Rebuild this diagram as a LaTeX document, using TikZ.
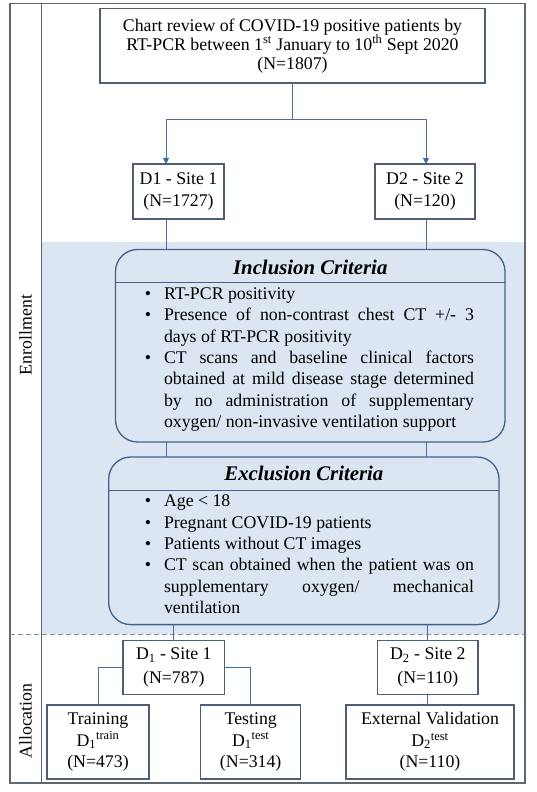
\documentclass[tikz,border=0pt]{standalone}
\usepackage{fontspec}
\setmainfont{Liberation Serif}
\usetikzlibrary{arrows.meta,calc}
\definecolor{framecol}{HTML}{5F6770}
\definecolor{boxcol}{HTML}{4D5E75}
\definecolor{rboxcol}{HTML}{45618A}
\definecolor{linecol}{HTML}{4A6FA5}
\definecolor{arrcol}{HTML}{3B68B0}
\definecolor{shadecol}{HTML}{DCE6F2}
\definecolor{dashcol}{HTML}{8A8F96}
\newcommand{\critlist}[1]{%
\begin{minipage}[t]{330pt}\fontsize{17.8}{21.3}\selectfont\tolerance=10000 \hbadness=10000
\begin{list}{\textbullet}{\setlength\leftmargin{20pt}\setlength\labelwidth{7pt}\setlength\labelsep{13pt}\setlength\topsep{0pt}\setlength\itemsep{0pt}\setlength\parsep{0pt}\setlength\partopsep{0pt}}
#1
\end{list}
\end{minipage}}
\begin{document}
\begin{tikzpicture}[x=1pt,y=-1pt,
  base/.style={inner sep=0pt, outer sep=0pt, font=\fontsize{17.8}{21.5}\selectfont, align=center},
  sqbox/.style={base, draw=boxcol, line width=1.1pt, fill=white},
  rbox/.style={inner sep=0pt, outer sep=0pt, draw=rboxcol, line width=1.3pt, rounded corners=22pt},
  crittitle/.style={inner sep=0pt, font=\fontsize{20.8}{24}\selectfont\bfseries\itshape},
  critbody/.style={inner sep=0pt, outer sep=0pt, anchor=north west},
  conn/.style={draw=linecol, line width=0.9pt},
  arr/.style={conn, -{Triangle[width=6pt,length=6pt,color=arrcol]}}
]
\useasboundingbox (0,0) rectangle (536,792);
% background regions
\fill[shadecol] (41.5,242) rectangle (525,634);
\draw[framecol, line width=1.2pt] (10,3.5) rectangle (525,783);
\draw[framecol, line width=1.2pt] (41.5,3.5) -- (41.5,783);
\draw[dashcol, line width=1pt, dash pattern=on 5pt off 3pt] (10,634) -- (525,634);

% side labels
\node[base, rotate=90] (enr) at (25.5,335) {Enrollment};
\node[base, rotate=90] (alloc) at (25.5,721) {Allocation};

% top
\node[sqbox, minimum width=385pt, minimum height=74.5pt, font=\fontsize{17.8}{19}\selectfont] (top) at (292.5,45.75)
  {Chart review of COVID-19 positive patients by\\RT-PCR between 1\textsuperscript{st} January to 10\textsuperscript{th} Sept 2020\\(N=1807)};
\node[sqbox, minimum width=91pt, minimum height=55pt] (d1) at (178.5,191.5) {D1 - Site 1\\(N=1727)};
\node[sqbox, minimum width=100pt, minimum height=55pt] (d2) at (425,191.5) {D2 - Site 2\\(N=120)};

% inclusion
\node[rbox, minimum width=389.5pt, minimum height=192.5pt] (inc) at (310.25,345.75) {};
\coordinate (incsep) at (0,282);
\draw[rboxcol, line width=1pt] (inc.west |- incsep) -- (inc.east |- incsep);
\node[crittitle] (inct) at (310.25,267) {Inclusion Criteria};
\node[critbody] (incb) at (144,284.6) {\critlist{%
\item\strut RT-PCR positivity
\item Presence of non-contrast chest CT +/- 3\linebreak days of RT-PCR positivity
\item CT scans and baseline clinical factors\linebreak obtained at mild disease stage determined\linebreak by no administration of supplementary\linebreak oxygen/ non-invasive ventilation support}};

% exclusion
\node[rbox, minimum width=390.3pt, minimum height=167.6pt] (exc) at (303.85,540.8) {};
\coordinate (excsep) at (0,490.6);
\draw[rboxcol, line width=1pt] (exc.west |- excsep) -- (exc.east |- excsep);
\node[crittitle] (exct) at (303.85,473) {Exclusion Criteria};
\node[critbody] (excb) at (144,492) {\critlist{%
\item\strut Age < 18
\item Pregnant COVID-19 patients
\item Patients without CT images
\item CT scan obtained when the patient was on\linebreak supplementary oxygen/ mechanical\linebreak ventilation}};

% allocation
\node[sqbox, minimum width=101.6pt, minimum height=54pt, font=\fontsize{17.8}{24}\selectfont] (a1) at (173.8,667.5) {D\textsubscript{1} - Site 1\\(N=787)};
\node[sqbox, minimum width=100.3pt, minimum height=54pt, font=\fontsize{17.8}{24}\selectfont] (a2) at (427.85,667.5) {D\textsubscript{2} - Site 2\\(N=110)};
\node[sqbox, minimum width=102pt, minimum height=74pt] (tr) at (98,742) {Training\\D\textsubscript{1}\textsuperscript{train}\\(N=473)};
\node[sqbox, minimum width=100.2pt, minimum height=74pt] (te) at (250.7,742) {Testing\\D\textsubscript{1}\textsuperscript{test}\\(N=314)};
\node[sqbox, minimum width=168pt, minimum height=74pt] (ev) at (430,742) {External Validation\\D\textsubscript{2}\textsuperscript{test}\\(N=110)};

% connectors
\coordinate (jL) at (166,119);
\coordinate (jR) at (426,119);
\draw[conn] (top.south) -- (top.south |- jL);
\draw[conn] (jL) -- (jR);
\draw[arr] (jL) -- (jL |- d1.north);
\draw[arr] (jR) -- (jR |- d2.north);
\draw[conn] (jL |- d1.south) -- (jL |- inc.north);
\draw[conn] (jR |- d2.south) -- (jR |- inc.north);
\draw[conn] (jL |- inc.south) -- (jL |- exc.north);
\draw[conn] (jR |- inc.south) -- (jR |- exc.north);
\draw[conn] (a1.north |- exc.south) -- (a1.north);
\draw[conn] (a2.north |- exc.south) -- (a2.north);
\draw[conn] (a1.west) -| (tr.north);
\draw[conn] (a1.east) -| (te.north);
\draw[conn] (a2.south) -- (a2.south |- ev.north);
\end{tikzpicture}
\end{document}
